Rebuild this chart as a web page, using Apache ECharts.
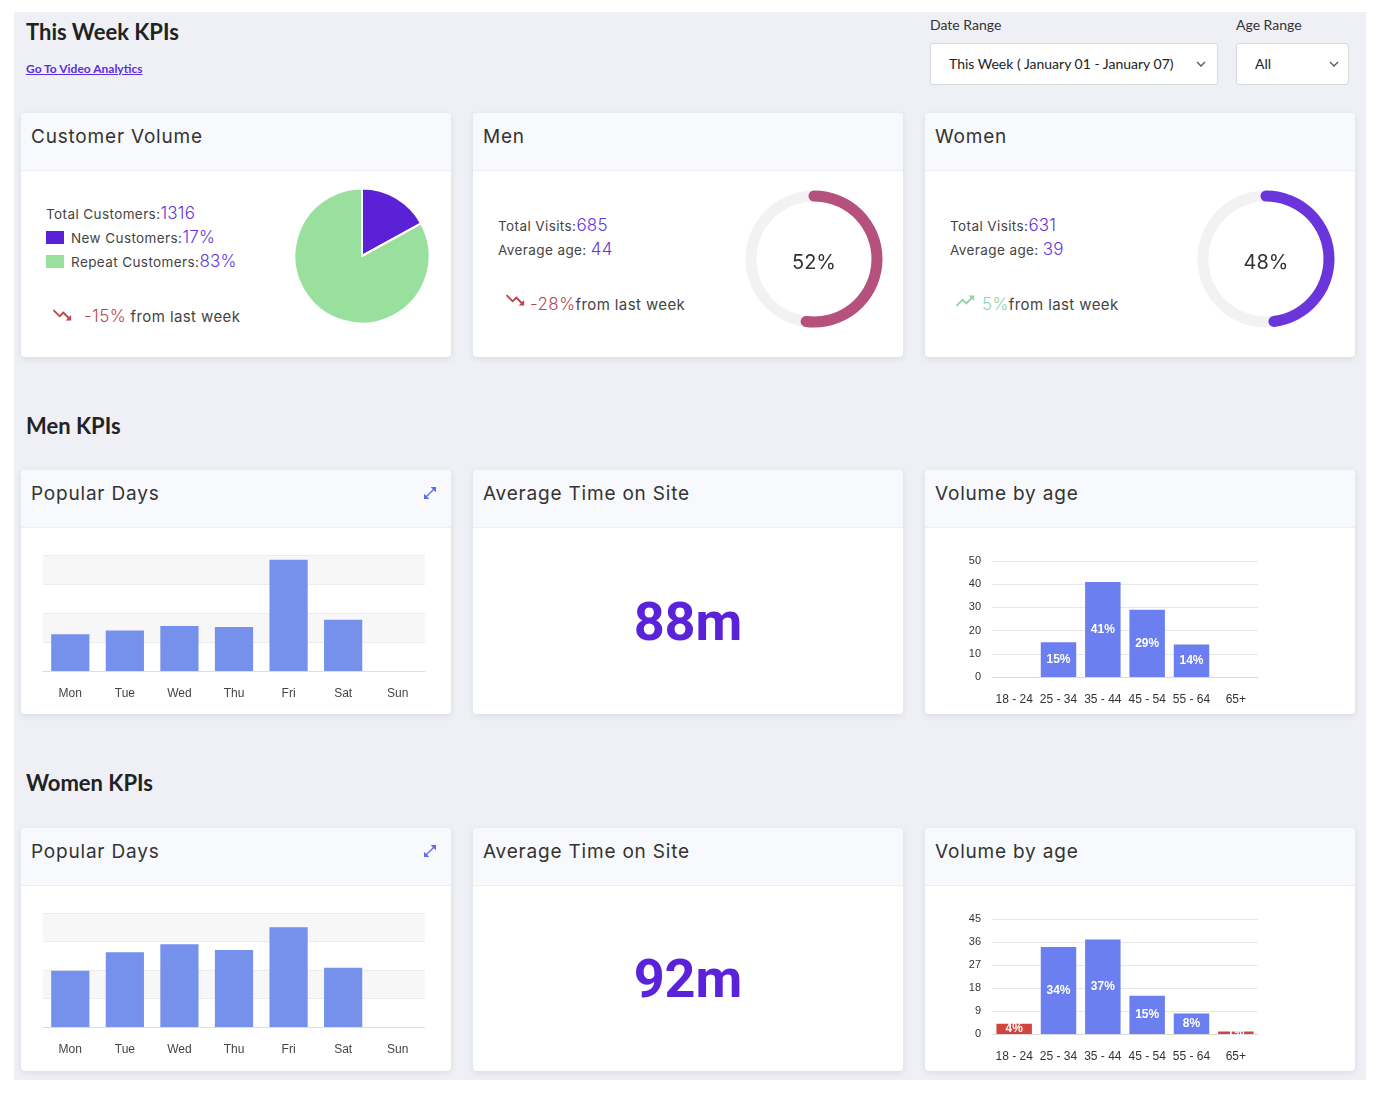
<!DOCTYPE html>
<html>
<head>
<meta charset="utf-8">
<title>This Week KPIs</title>
<script src="https://cdn.jsdelivr.net/npm/echarts@6/dist/echarts.min.js"></script>
<style>
body { margin:0; background:#fff; font-family:Inter, "Noto Sans", sans-serif; }
#page { position:relative; width:1380px; height:1100px; }
#panel { position:absolute; left:14px; top:12px; width:1352px; height:1068px; background:#eef0f5; }
.heading { position:absolute; left:26px; font-family:Lato, sans-serif; font-weight:700; font-size:22px; color:#222; line-height:26px; }
.link { position:absolute; left:26px; top:61px; font-family:Lato, sans-serif; font-size:12px; color:#5b2ee0; text-decoration:underline; line-height:16px; font-weight:700; }
.field-label { position:absolute; top:16px; font-family:Lato, sans-serif; font-size:14px; color:#333; line-height:18px; }
.select { position:absolute; top:43px; height:40px; background:#fff; border:1px solid #d6d9df; border-radius:3px;
  font-family:Lato, sans-serif; font-size:14px; color:#222; line-height:40px; box-sizing:content-box; }
.select span { position:absolute; left:18px; }
.select svg { position:absolute; top:17px; }
.card { position:absolute; width:430px; height:244px; background:#fff; border-radius:4px; box-shadow:0 2px 6px rgba(40,50,80,0.10); overflow:hidden; }
.card-head { height:57px; background:#f8f9fc; border-bottom:1px solid #eceef3; padding-left:10px; font-size:19px; color:#333; line-height:48px; letter-spacing:0.8px; position:relative; }
.line { position:absolute; left:25px; font-size:13.5px; color:#444; line-height:24px; white-space:nowrap; letter-spacing:0.4px; }
.num { color:#6236d9; font-size:17px; font-weight:300; letter-spacing:0.2px; }
.swatch { display:inline-block; width:18px; height:13px; vertical-align:-1px; margin-right:7px; }
.trend { position:absolute; font-size:15px; color:#444; line-height:24px; white-space:nowrap; letter-spacing:0.4px; }
.trend .pct { font-size:17px; font-weight:300; }
.icon { position:absolute; }
.chart { position:absolute; }
.big { position:absolute; left:0; top:58px; width:430px; height:186px; display:flex; align-items:center; justify-content:center;
  font-family:Roboto, sans-serif; font-weight:700; font-size:54px; color:#5a22d9; }
</style>
</head>
<body>
<div id="page">
  <div id="panel"></div>

  <div class="heading" style="top:19px">This Week KPIs</div>
  <div class="link">Go To Video Analytics</div>

  <div class="field-label" style="left:930px">Date Range</div>
  <div class="select" style="left:930px; width:286px"><span>This Week ( January 01 - January 07)</span>
    <svg style="left:265px" width="10" height="7" viewBox="0 0 10 7"><polyline points="1,1 5,5 9,1" fill="none" stroke="#555" stroke-width="1.3"/></svg></div>
  <div class="field-label" style="left:1236px">Age Range</div>
  <div class="select" style="left:1236px; width:111px"><span>All</span>
    <svg style="left:92px" width="10" height="7" viewBox="0 0 10 7"><polyline points="1,1 5,5 9,1" fill="none" stroke="#555" stroke-width="1.3"/></svg></div>

  <!-- row 1 -->
  <div class="card" style="left:21px; top:113px">
    <div class="card-head">Customer Volume</div>
    <div class="line" style="top:88px">Total Customers:<span class="num" id="totalCustomers"></span></div>
    <div class="line" style="top:112px"><span class="swatch" id="sw0"></span><span id="lg0"></span></div>
    <div class="line" style="top:136px"><span class="swatch" id="sw1"></span><span id="lg1"></span></div>
    <svg class="icon" style="left:28px; top:191px" width="26" height="22" viewBox="0 0 24 24"><path fill="#b8474a" d="M16 18l2.29-2.29-4.88-4.88-4 4L2 7.41 3.41 6l6 6 4-4 6.3 6.29L22 12v6z"/></svg>
    <div class="trend" style="left:63px; top:191px"><span class="pct" style="color:#b8474a" id="custTrend"></span> from last week</div>
    <div class="chart" id="pieChart" style="left:261px; top:63px; width:160px; height:160px"></div>
  </div>

  <div class="card" style="left:473px; top:113px">
    <div class="card-head">Men</div>
    <div class="line" style="top:100px">Total Visits:<span class="num" id="menVisits"></span></div>
    <div class="line" style="top:124px">Average age: <span class="num" id="menAge"></span></div>
    <svg class="icon" style="left:29px; top:176px" width="26" height="22" viewBox="0 0 24 24"><path fill="#b8474a" d="M16 18l2.29-2.29-4.88-4.88-4 4L2 7.41 3.41 6l6 6 4-4 6.3 6.29L22 12v6z"/></svg>
    <div class="trend" style="left:57px; top:179px"><span class="pct" style="color:#b8474a" id="menTrend"></span>from last week</div>
    <div class="chart" id="menGauge" style="left:261px; top:66px; width:160px; height:160px"></div>
  </div>

  <div class="card" style="left:925px; top:113px">
    <div class="card-head">Women</div>
    <div class="line" style="top:100px">Total Visits:<span class="num" id="womenVisits"></span></div>
    <div class="line" style="top:124px">Average age: <span class="num" id="womenAge"></span></div>
    <svg class="icon" style="left:27px; top:177px" width="26" height="22" viewBox="0 0 24 24"><path fill="#8fd3a6" d="M16 6l2.29 2.29-4.88 4.88-4-4L2 16.59 3.41 18l6-6 4 4 6.3-6.29L22 12V6z"/></svg>
    <div class="trend" style="left:57px; top:179px"><span class="pct" style="color:#8fd3a6" id="womenTrend"></span>from last week</div>
    <div class="chart" id="womenGauge" style="left:261px; top:66px; width:160px; height:160px"></div>
  </div>

  <!-- row 2 -->
  <div class="heading" style="top:413px">Men KPIs</div>
  <div class="card" style="left:21px; top:470px">
    <div class="card-head">Popular Days
      <svg style="position:absolute; left:401px; top:15px" width="16" height="16" viewBox="0 0 24 24"><path fill="#5b6ee8" d="M21 11V3h-8l3.29 3.29-10 10L3 13v8h8l-3.29-3.29 10-10z"/></svg></div>
    <div class="chart" id="menDays" style="left:0; top:58px; width:430px; height:186px"></div>
  </div>
  <div class="card" style="left:473px; top:470px">
    <div class="card-head">Average Time on Site</div>
    <div class="big" id="menTime"></div>
  </div>
  <div class="card" style="left:925px; top:470px">
    <div class="card-head">Volume by age</div>
    <div class="chart" id="menAgeChart" style="left:0; top:58px; width:430px; height:186px"></div>
  </div>

  <!-- row 3 -->
  <div class="heading" style="top:770px">Women KPIs</div>
  <div class="card" style="left:21px; top:828px; height:243px">
    <div class="card-head">Popular Days
      <svg style="position:absolute; left:401px; top:15px" width="16" height="16" viewBox="0 0 24 24"><path fill="#5b6ee8" d="M21 11V3h-8l3.29 3.29-10 10L3 13v8h8l-3.29-3.29 10-10z"/></svg></div>
    <div class="chart" id="womenDays" style="left:0; top:58px; width:430px; height:185px"></div>
  </div>
  <div class="card" style="left:473px; top:828px; height:243px">
    <div class="card-head">Average Time on Site</div>
    <div class="big" id="womenTime" style="height:185px"></div>
  </div>
  <div class="card" style="left:925px; top:828px; height:243px">
    <div class="card-head">Volume by age</div>
    <div class="chart" id="womenAgeChart" style="left:0; top:58px; width:430px; height:185px"></div>
  </div>
</div>

<script>
// customer volume
var totalCustomers = 1316;
var customerTypes = ['New Customers', 'Repeat Customers'];
var customerShare = [17, 83];
var customerTrend = -15;

// men / women split
var genders = ['Men', 'Women'];
var genderVisits = [685, 631];
var genderAvgAge = [44, 39];
var genderShare = [52, 48];
var genderTrend = [-28, 5];
var genderTimeOnSite = [88, 92];   // minutes

// popular days
var weekDays = ['Mon', 'Tue', 'Wed', 'Thu', 'Fri', 'Sat', 'Sun'];
var menDayVisits = [76, 84, 93, 91, 230, 106, 0];
var womenDayVisits = [79, 105, 116, 108, 140, 83, 0];
var menDayTicks = [0, 60, 120, 180, 240];
var womenDayTicks = [0, 40, 80, 120, 160];

// volume by age (%)
var ageGroups = ['18 - 24', '25 - 34', '35 - 44', '45 - 54', '55 - 64', '65+'];
var menAgeShare = [0, 15, 41, 29, 14, 0];
var womenAgeShare = [4, 34, 37, 15, 8, 1];
var menAgeTicks = [0, 10, 20, 30, 40, 50];
var womenAgeTicks = [0, 9, 18, 27, 36, 45];

var pieColors = ['#5b21d6', '#99df9d'];
var gaugeColors = ['#b5517c', '#6b35dc'];
var dayBarColor = '#7591eb';
var ageBarColor = '#6b7ff0';
var lowAgeColor = '#d1453e';
var lowShareLimit = 5;

var fmtTrend = function(v){ return v + '%'; };

/** fill the text blocks */
var fillTexts = function(){
    document.getElementById('totalCustomers').textContent = totalCustomers;
    customerTypes.forEach(function(name, i){
        document.getElementById('sw' + i).style.background = pieColors[i];
        document.getElementById('lg' + i).innerHTML = name + ':<span class="num">' + customerShare[i] + '%</span>';
    });
    document.getElementById('custTrend').textContent = fmtTrend(customerTrend);
    document.getElementById('menVisits').textContent = genderVisits[0];
    document.getElementById('menAge').textContent = genderAvgAge[0];
    document.getElementById('menTrend').textContent = fmtTrend(genderTrend[0]);
    document.getElementById('womenVisits').textContent = genderVisits[1];
    document.getElementById('womenAge').textContent = genderAvgAge[1];
    document.getElementById('womenTrend').textContent = fmtTrend(genderTrend[1]);
    document.getElementById('menTime').textContent = genderTimeOnSite[0] + 'm';
    document.getElementById('womenTime').textContent = genderTimeOnSite[1] + 'm';
}

var pieOption = function(){
    return {
        animation: false,
        series: [{
            type: 'pie',
            radius: 67.5,
            center: ['50%', '50%'],
            startAngle: 90,
            clockwise: true,
            label: {show: false},
            labelLine: {show: false},
            itemStyle: {borderColor: '#fff', borderWidth: 2},
            data: customerTypes.map(function(n, i){
                return {name: n, value: customerShare[i], itemStyle: {color: pieColors[i]}};
            })
        }]
    };
}

var gaugeOption = function(i){
    return {
        animation: false,
        series: [{
            type: 'gauge',
            startAngle: 90,
            endAngle: -270,
            min: 0,
            max: 100,
            radius: 68.5,
            center: ['50%', '50%'],
            progress: {show: true, width: 11, roundCap: true, itemStyle: {color: gaugeColors[i]}},
            axisLine: {lineStyle: {width: 11, color: [[1, '#f2f2f3']]}},
            pointer: {show: false},
            anchor: {show: false},
            axisTick: {show: false},
            splitLine: {show: false},
            axisLabel: {show: false},
            title: {show: false},
            detail: {
                offsetCenter: [0, 4],
                formatter: '{value}%',
                fontSize: 20,
                fontWeight: 400,
                fontFamily: 'Inter',
                color: '#333'
            },
            data: [{name: genders[i], value: genderShare[i]}]
        }]
    };
}

var daysOption = function(values, ticks, bottom){
    return {
        animation: false,
        grid: {left: 22, right: 26, top: 27, bottom: bottom},
        xAxis: {
            type: 'category',
            data: weekDays,
            axisLine: {lineStyle: {color: '#dddddd'}},
            axisTick: {length: 6, lineStyle: {color: '#dddddd'}},
            axisLabel: {color: '#444', fontSize: 12, fontFamily: 'Arial', margin: 17}
        },
        yAxis: {
            type: 'value',
            min: ticks[0],
            max: ticks[ticks.length - 1],
            interval: ticks[1] - ticks[0],
            axisLabel: {show: false},
            axisLine: {show: false},
            axisTick: {show: false},
            splitLine: {lineStyle: {color: '#ececec'}},
            splitArea: {show: true, areaStyle: {color: ['#ffffff', '#f7f7f8']}}
        },
        series: [{type: 'bar', data: values, barWidth: '70%', itemStyle: {color: dayBarColor}}]
    };
}

var ageOption = function(values, ticks){
    return {
        animation: false,
        grid: {left: 67, right: 97, top: 33, bottom: 37},
        xAxis: {
            type: 'category',
            data: ageGroups,
            axisLine: {lineStyle: {color: '#d9d9d9'}},
            axisTick: {length: 6, lineStyle: {color: '#d9d9d9'}},
            axisLabel: {color: '#333', fontSize: 12, fontFamily: 'Arial', margin: 17, interval: 0}
        },
        yAxis: {
            type: 'value',
            min: ticks[0],
            max: ticks[ticks.length - 1],
            interval: ticks[1] - ticks[0],
            axisLabel: {color: '#333', fontSize: 11, fontFamily: 'Arial', margin: 11},
            axisLine: {show: false},
            axisTick: {show: false},
            splitLine: {lineStyle: {color: '#e8e8e8'}}
        },
        series: [{
            type: 'bar',
            barWidth: '80%',
            data: values.map(function(v){
                return {value: v, itemStyle: {color: v < lowShareLimit ? lowAgeColor : ageBarColor}};
            }),
            label: {
                show: true,
                position: 'inside',
                color: '#fff',
                fontWeight: 'bold',
                fontSize: 12,
                fontFamily: 'Arial',
                formatter: function(p){ return p.value ? p.value + '%' : ''; }
            }
        }]
    };
}

var drawCharts = function(){
    echarts.init(document.getElementById('pieChart')).setOption(pieOption());
    echarts.init(document.getElementById('menGauge')).setOption(gaugeOption(0));
    echarts.init(document.getElementById('womenGauge')).setOption(gaugeOption(1));
    echarts.init(document.getElementById('menDays')).setOption(daysOption(menDayVisits, menDayTicks, 43));
    echarts.init(document.getElementById('womenDays')).setOption(daysOption(womenDayVisits, womenDayTicks, 44));
    echarts.init(document.getElementById('menAgeChart')).setOption(ageOption(menAgeShare, menAgeTicks));
    echarts.init(document.getElementById('womenAgeChart')).setOption(ageOption(womenAgeShare, womenAgeTicks));
}

fillTexts();
drawCharts();
</script>
</body>
</html>
